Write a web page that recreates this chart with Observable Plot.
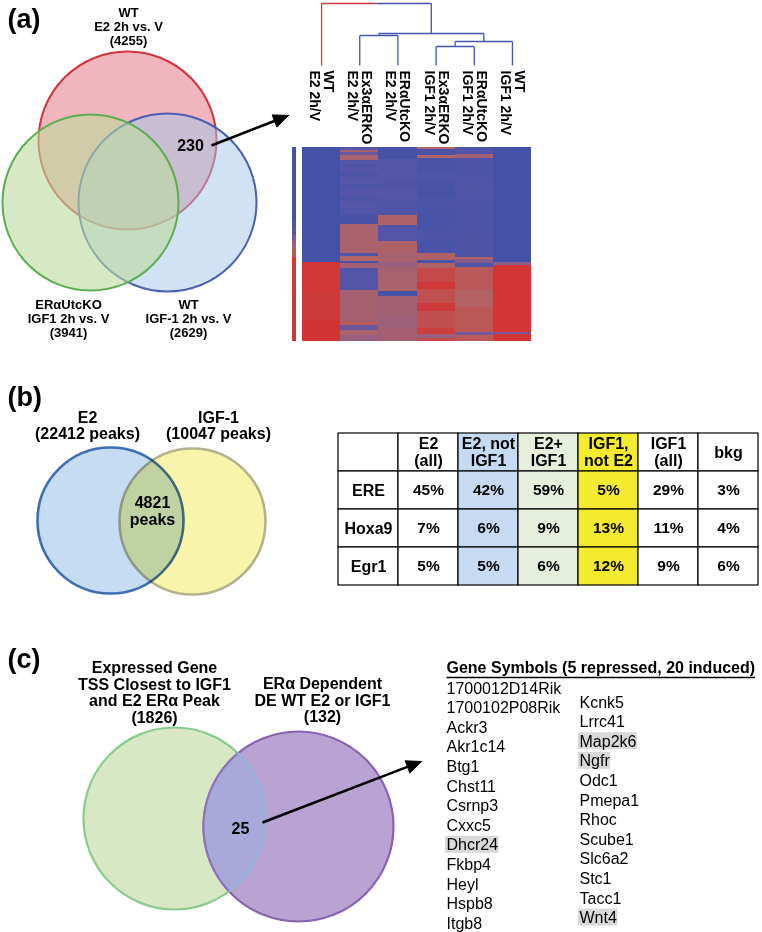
<!DOCTYPE html>
<html>
<head>
<meta charset="utf-8">
<script src="https://cdn.jsdelivr.net/npm/d3@7"></script>
<script src="https://cdn.jsdelivr.net/npm/@observablehq/plot@0.6"></script>
<style>
html, body { margin:0; padding:0; background:#fff; }
#fig { position:relative; width:762px; height:932px; overflow:hidden; background:#fff; }
</style>
</head>
<body>
<div id="fig"></div>
<script>
// ================= DATA =================
// (a) Venn diagram of differentially expressed genes
const vennASets = ["WT\nE2 2h vs. V", "ERαUtcKO\nIGF1 2h vs. V", "WT\nIGF-1 2h vs. V"];
const vennACounts = [4255, 3941, 2629];
const vennAShared = 230;

// (a) heatmap of the 230 shared genes (segments: [firstRow, lastRow, value])
const heatColumns = ["WT\nE2 2h/V", "Ex3αERKO\nE2 2h/V", "ERαUtcKO\nE2 2h/V", "Ex3αERKO\nIGF1 2h/V", "ERαUtcKO\nIGF1 2h/V", "WT\nIGF1 2h/V"];
const heatRowCount = 230;
const heatCol0 = [[0,136,-1],[136,172,0.93],[172,205,0.9],[205,230,0.96]];
const heatCol1 = [[0,4,-0.5],[4,6,0.4],[6,10,-0.3],[10,15,0.4],[15,20,-0.55],[20,24,-0.72],[24,30,-0.5],[30,36,-0.75],[36,44,-0.55],[44,50,-0.7],[50,58,-0.5],[58,64,-0.75],[64,72,-0.55],[72,81,-0.65],[81,91,-0.9],[91,126,0.4],[126,129,-0.6],[129,135,0.5],[135,137,-0.8],[137,144,0.3],[144,169,-0.6],[169,207,0.35],[207,211,0.6],[211,217,-0.3],[217,223,0.4],[223,230,0.2]];
const heatCol2 = [[0,14,-0.95],[14,30,-0.6],[30,38,-0.5],[38,50,-0.65],[50,62,-0.5],[62,81,-0.62],[81,93,0.45],[93,112,-0.6],[112,126,0.45],[126,136,0.38],[136,142,0.2],[142,150,0.35],[150,171,0.4],[171,177,-0.9],[177,200,0.3],[200,215,0.25],[215,230,0.32]];
const heatCol3 = [[0,2,0.5],[2,10,-0.8],[10,13,0.5],[13,30,-0.85],[30,40,-0.7],[40,60,-0.88],[60,70,-0.7],[70,100,-0.85],[100,110,-0.72],[110,126,-0.85],[126,134,0.45],[134,138,-0.8],[138,144,0.45],[144,160,0.75],[160,168,0.92],[168,185,0.7],[185,195,0.9],[195,215,0.7],[215,222,0.85],[222,226,0.2],[226,230,0.75]];
const heatCol4 = [[0,8,-0.6],[8,13,0.3],[13,40,-0.7],[40,60,-0.62],[60,100,-0.72],[100,130,-0.66],[130,133,0.5],[133,137,0],[137,142,-0.7],[142,170,0.6],[170,190,0.52],[190,219,0.62],[219,223,-0.2],[223,230,0.6]];
const heatCol5 = [[0,136,-1],[136,140,0],[140,219,0.95],[219,222,-0.2],[222,230,0.95]];
const heatSideBar = [[0,88,-1],[88,96,-0.75],[96,104,-0.45],[104,112,-0.1],[112,120,0.25],[120,130,0.6],[130,230,0.95]];
// dendrogram merges: [left node, right node, merge height]
const dendroMerges = [["c1","c2",30],["c3","c4",19],["m2","c5",24],["m1","m3",32],["c0","m4",62]];

// (b) Venn of ERα ChIP-seq peaks and motif table
const vennBSets = ["E2", "IGF-1"];
const vennBPeaks = [22412, 10047];
const vennBShared = 4821;
const motifColumns = ["E2\n(all)", "E2, not\nIGF1", "E2+\nIGF1", "IGF1,\nnot E2", "IGF1\n(all)", "bkg"];
const motifs = ["ERE", "Hoxa9", "Egr1"];
const motifPct = [[45,42,59,5,29,3],[7,6,9,13,11,4],[5,5,6,12,9,6]];

// (c) Venn and gene list
const vennCSets = ["Expressed Gene\nTSS Closest to IGF1\nand E2 ERα Peak", "ERα Dependent\nDE WT E2 or IGF1"];
const vennCCounts = [1826, 132];
const vennCShared = 25;
const geneListTitle = "Gene Symbols (5 repressed, 20 induced)";
const geneCol1 = ["1700012D14Rik","1700102P08Rik","Ackr3","Akr1c14","Btg1","Chst11","Csrnp3","Cxxc5","Dhcr24","Fkbp4","Heyl","Hspb8","Itgb8"];
const geneCol2 = ["Kcnk5","Lrrc41","Map2k6","Ngfr","Odc1","Pmepa1","Rhoc","Scube1","Slc6a2","Stc1","Tacc1","Wnt4"];
const highlightedGenes = ["Dhcr24","Map2k6","Ngfr","Wnt4"];

// ================= LAYOUT / STYLE =================
const W = 762, H = 932;
const FONT = "'Liberation Sans', Arial, sans-serif";
const NARROW = "'Liberation Sans Narrow', 'Liberation Sans', Arial, sans-serif";
const fig = document.getElementById("fig");
const place = (left, top) => `position:absolute;left:${left}px;top:${top}px;background:transparent;overflow:visible;font-family:${FONT};`;

const A = { circles: [{x:127,y:140,r:89},{x:90,y:202,r:88},{x:167,y:202,r:89}],
            labels: [[128,26],[68,318],[188,318]], shared:[190,145], arrow:{x1:211,y1:145,x2:288,y2:115} };
const B = { circles: [{x:110,y:520,r:73},{x:192,y:521,r:73}], labels: [[87,425],[218,425]], shared:[152,511] };
const C = { circles: [{x:174,y:818,r:91},{x:298,y:826,r:95}], labels: [[154,692],[322,700]], shared:[240,828],
            arrow:{x1:262,y1:822,x2:421,y2:761} };
const letters = [["(a)",7,19],["(b)",7,397],["(c)",7,659]];
const G = { x1:446, x2:579, y1:688, y2:702, dy:19.6, titleY:667, ruleY:677, size:16 };

// ================= BASE CANVAS =================
const ctx = document.createElement("canvas").getContext("2d");
const measure = (t, font) => { ctx.font = font; return ctx.measureText(t).width; };

const [cRed, cGreen, cBlue] = A.circles;
const [cB1, cB2] = B.circles;
const [cG, cP] = C.circles;

// lens (intersection) of the two circles in (c)
const lens = d3.range(cP.y - cP.r, cG.y + cG.r, 0.5).map(y => {
  const dg = cG.r*cG.r - (y-cG.y)**2, dp = cP.r*cP.r - (y-cP.y)**2;
  if (dg < 0 || dp < 0) return null;
  const x1 = cP.x - Math.sqrt(dp), x2 = cG.x + Math.sqrt(dg);
  return x1 <= x2 ? {y, x1, x2} : null;
}).filter(Boolean);

// filled arrowheads
function arrowParts(a, len = 15, half = 6.5) {
  const dx = a.x2 - a.x1, dy = a.y2 - a.y1, n = Math.hypot(dx, dy);
  const ux = dx / n, uy = dy / n;
  const bx = a.x2 - ux * len, by = a.y2 - uy * len;
  return {
    shaft: {x1:a.x1, y1:a.y1, x2:bx + ux*2, y2:by + uy*2},
    head: [{x:a.x2, y:a.y2}, {x:bx - uy*half, y:by + ux*half}, {x:bx + uy*half, y:by - ux*half}, {x:a.x2, y:a.y2}]
  };
}
const arA = arrowParts(A.arrow), arC = arrowParts(C.arrow);

const genes = [
  ...geneCol1.map((g,i) => ({g, x:G.x1, y:G.y1 + i*G.dy})),
  ...geneCol2.map((g,i) => ({g, x:G.x2, y:G.y2 + i*G.dy}))
];
const geneFont = `${G.size}px ${FONT}`;
const hl = genes.filter(d => highlightedGenes.includes(d.g)).map(d => ({...d, w: measure(d.g, geneFont)}));
const titleW = measure(geneListTitle, `bold ${G.size}px ${FONT}`);

const bold = {fontWeight:"bold", fontFamily:FONT};
const base = Plot.plot({
  width: W, height: H, margin: 0,
  x: {domain:[0,W], range:[0,W], axis:null},
  y: {domain:[0,H], range:[0,H], axis:null},
  style: place(0,0),
  marks: [
    // panel letters
    Plot.text(letters, {x:d=>d[1], y:d=>d[2], text:d=>d[0], textAnchor:"start", fontSize:27, ...bold}),
    // (a) three-way Venn
    Plot.dot([cRed], {x:"x", y:"y", r:cRed.r, fill:"#D9475A", fillOpacity:0.4, stroke:"#D0343C", strokeWidth:2}),
    Plot.dot([cBlue], {x:"x", y:"y", r:cBlue.r, fill:"#A1C5E9", fillOpacity:0.5, stroke:"#4A5FB0", strokeWidth:2}),
    Plot.dot([cGreen], {x:"x", y:"y", r:cGreen.r, fill:"#BCDA9D", fillOpacity:0.6, stroke:"#5AAE50", strokeWidth:2}),
    Plot.text(vennASets, {x:(d,i)=>A.labels[i][0], y:(d,i)=>A.labels[i][1], text:(d,i)=>`${d}\n(${vennACounts[i]})`,
      fontSize:13, fontWeight:"bold", fontFamily:NARROW, lineHeight:1.1}),
    Plot.text([vennAShared], {x:()=>A.shared[0], y:()=>A.shared[1], text:d=>String(d), fontSize:16, fontWeight:"bold", fontFamily:NARROW}),
    Plot.link([arA.shaft], {x1:"x1", y1:"y1", x2:"x2", y2:"y2", stroke:"black", strokeWidth:2.6}),
    Plot.line(arA.head, {x:"x", y:"y", fill:"black", stroke:"black", strokeWidth:1, curve:"linear-closed"}),
    // (b) two-way Venn
    Plot.dot([cB1], {x:"x", y:"y", r:cB1.r, fill:"#C6DCF2", stroke:"#3F6DB4", strokeWidth:2.6}),
    Plot.dot([cB2], {x:"x", y:"y", r:cB2.r, fill:"#F8F4AA", stroke:"#B4B28E", strokeWidth:2.6, mixBlendMode:"multiply"}),
    Plot.text(vennBSets, {x:(d,i)=>B.labels[i][0], y:(d,i)=>B.labels[i][1], text:(d,i)=>`${d}\n(${vennBPeaks[i]} peaks)`,
      fontSize:16, lineHeight:1.0, ...bold}),
    Plot.text([vennBShared], {x:()=>B.shared[0], y:()=>B.shared[1], text:d=>`${d}\npeaks`, fontSize:16, lineHeight:1.05, ...bold}),
    // (c) two-way Venn
    Plot.dot([cG], {x:"x", y:"y", r:cG.r, fill:"#D8E8C5", stroke:"#8CCB8F", strokeWidth:2.2}),
    Plot.dot([cP], {x:"x", y:"y", r:cP.r, fill:"#B9A3D2", stroke:"#8763B2", strokeWidth:2.2}),
    Plot.areaX(lens, {y:"y", x1:"x1", x2:"x2", fill:"#A9A9D9"}),
    Plot.line(lens, {x:"x1", y:"y", stroke:"#8E74BE", strokeWidth:2.2}),
    Plot.line(lens, {x:"x2", y:"y", stroke:"#8FB4DE", strokeWidth:2.2}),
    Plot.text(vennCSets, {x:(d,i)=>C.labels[i][0], y:(d,i)=>C.labels[i][1], text:(d,i)=>`${d}\n(${vennCCounts[i]})`,
      fontSize:16, lineHeight:1.04, ...bold}),
    Plot.text([vennCShared], {x:()=>C.shared[0], y:()=>C.shared[1], text:d=>String(d), fontSize:16, ...bold}),
    Plot.link([arC.shaft], {x1:"x1", y1:"y1", x2:"x2", y2:"y2", stroke:"black", strokeWidth:2.6}),
    Plot.line(arC.head, {x:"x", y:"y", fill:"black", stroke:"black", strokeWidth:1, curve:"linear-closed"}),
    // gene list
    Plot.rect(hl, {x1:d=>d.x-1, x2:d=>d.x+d.w+1, y1:d=>d.y-9, y2:d=>d.y+8, fill:"#D9D9D9"}),
    Plot.text([geneListTitle], {x:()=>G.x1, y:()=>G.titleY, text:d=>d, textAnchor:"start", fontSize:G.size, ...bold}),
    Plot.link([{a:G.x1, b:G.x1+titleW}], {x1:"a", x2:"b", y1:()=>G.ruleY, y2:()=>G.ruleY, stroke:"black", strokeWidth:1.5}),
    Plot.text(genes, {x:"x", y:"y", text:"g", textAnchor:"start", fontSize:G.size, fontFamily:FONT})
  ]
});
fig.append(base);

// ================= DENDROGRAM =================
const nodes = {};
heatColumns.forEach((_, i) => nodes["c"+i] = {x:i, h:0});
const RED = "#D23A3E", BLUE = "#4454AE";
const dendroLinks = [];
dendroMerges.forEach(([a, b, h], k) => {
  const na = nodes[a], nb = nodes[b];
  const node = {x:(na.x+nb.x)/2, h};
  nodes["m"+(k+1)] = node;
  const root = k === dendroMerges.length - 1;
  dendroLinks.push({x1:na.x, y1:na.h, x2:na.x, y2:h, c: root ? RED : BLUE});
  dendroLinks.push({x1:nb.x, y1:nb.h, x2:nb.x, y2:h, c: BLUE});
  if (root) {
    dendroLinks.push({x1:na.x, y1:h, x2:node.x, y2:h, c: RED});
    dendroLinks.push({x1:node.x, y1:h, x2:nb.x, y2:h, c: BLUE});
  } else {
    dendroLinks.push({x1:na.x, y1:h, x2:nb.x, y2:h, c: BLUE});
  }
});
const dendro = Plot.plot({
  width: 260, height: 145, marginLeft:0, marginRight:0, marginTop:3, marginBottom:80,
  x: {domain:[-0.5,5.5], range:[17,246], axis:null},
  y: {domain:[0,62], range:[65,3], axis:null},
  color: {type:"identity"},
  style: place(285,0),
  marks: [
    Plot.link(dendroLinks, {x1:"x1", y1:"y1", x2:"x2", y2:"y2", stroke:"c", strokeWidth:1.3}),
    Plot.text(heatColumns, {x:(d,i)=>i, frameAnchor:"bottom", dy:5, rotate:90, textAnchor:"start", lineAnchor:"middle",
      text:d=>d, fontSize:14, fontWeight:"bold", fontFamily:NARROW, lineHeight:1.0})
  ]
});
fig.append(dendro);

// ================= HEATMAP =================
const heatSegments = [heatCol0, heatCol1, heatCol2, heatCol3, heatCol4, heatCol5];
const heatCells = heatSegments.flatMap((segs, col) => segs.map(([r0, r1, v]) => ({col, r0, r1, v})));
const side = heatSideBar.map(([r0, r1, v]) => ({r0, r1, v}));
const heat = Plot.plot({
  width: 260, height: 345, marginLeft:0, marginRight:0, marginTop:147, marginBottom:4,
  x: {domain:[-0.5,5.5], range:[17,246], axis:null},
  y: {domain:[0,heatRowCount], range:[147,341], axis:null},
  color: {type:"linear", domain:[-1,-0.5,0,0.5,1], range:["#4351A6","#5656A8","#8A5C8C","#B26364","#D5302F"]},
  style: place(285,0),
  marks: [
    Plot.rect(heatCells, {x1:d=>d.col-0.5, x2:d=>d.col+0.5, y1:"r0", y2:"r1", fill:"v", shapeRendering:"crispEdges"}),
    Plot.rect(side, {x1:()=>-0.5, x2:()=>-0.5, y1:"r0", y2:"r1", fill:"v", insetLeft:-10, insetRight:6, shapeRendering:"crispEdges"})
  ]
});
fig.append(heat);

// ================= MOTIF TABLE =================
const tblCols = ["", ...motifColumns];
const tblRows = ["header", ...motifs];
const colFill = {2:"#C6DAF1", 3:"#E5EFDB", 4:"#F5EB2E"};
const cells = [];
tblCols.forEach((c, ci) => {
  cells.push({col:c, row:"header", text:c, fill: colFill[ci] || "white", hdr:true});
  motifs.forEach((m, mi) => {
    cells.push({col:c, row:m, text: ci === 0 ? m : `${motifPct[mi][ci-1]}%`, fill: colFill[ci] || "white", hdr: ci === 0});
  });
});
const table = Plot.plot({
  width: 432, height: 166, margin: 0,
  x: {type:"band", domain:tblCols, range:[6,430], padding:0, axis:null},
  y: {type:"band", domain:tblRows, range:[6,160], padding:0, axis:null},
  color: {type:"identity"},
  style: place(330,426),
  marks: [
    Plot.cell(cells, {x:"col", y:"row", fill:"fill", stroke:"black", strokeWidth:1.2, inset:0}),
    Plot.text(cells.filter(d => d.hdr), {x:"col", y:"row", text:"text", fontSize:16, lineHeight:1.05, ...bold}),
    Plot.text(cells.filter(d => !d.hdr), {x:"col", y:"row", text:"text", fontSize:15.5, ...bold})
  ]
});
fig.append(table);
</script>
</body>
</html>
